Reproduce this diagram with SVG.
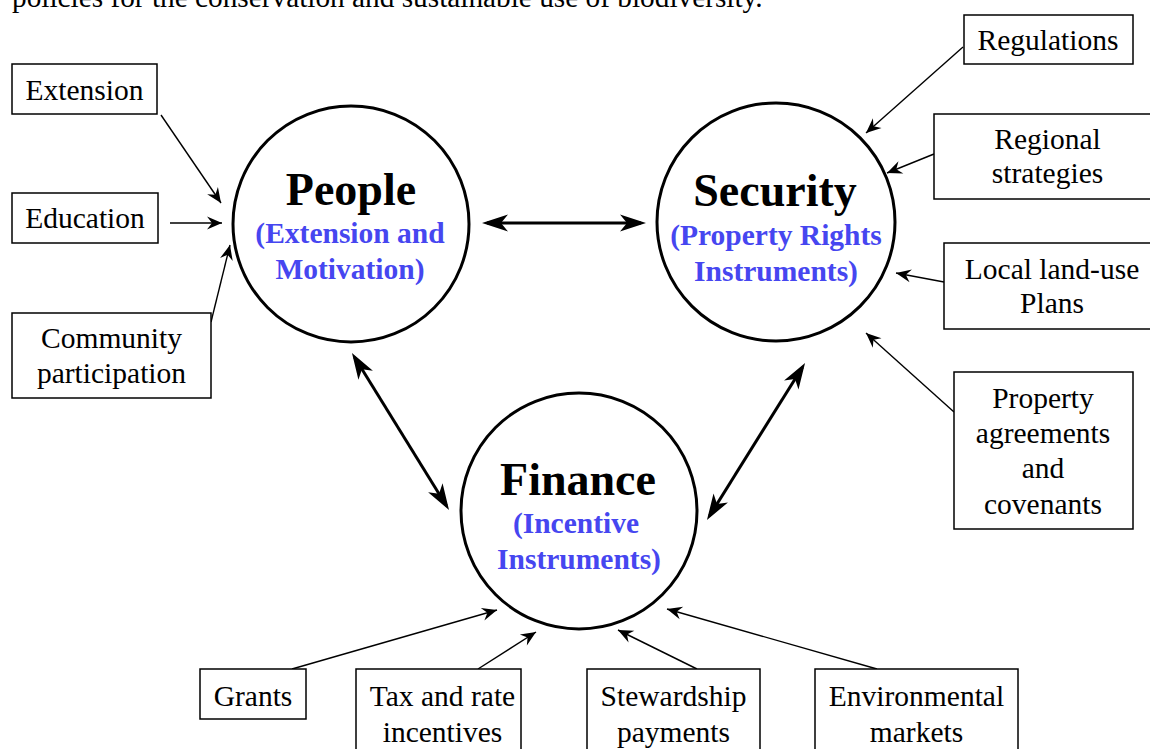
<svg xmlns="http://www.w3.org/2000/svg" width="1150" height="749" viewBox="0 0 1150 749">
<style>
  .bx { fill: #fff; stroke: #000; stroke-width: 1.5; }
  .hub { fill: #fff; stroke: #000; stroke-width: 3; }
  .t { font-family: "Liberation Serif", "Times New Roman", serif; font-size: 29.5px; fill: #000; text-anchor: middle; }
  .title { font-family: "Liberation Serif", "Times New Roman", serif; font-size: 46px; font-weight: bold; fill: #000; text-anchor: middle; }
  .sub { font-family: "Liberation Serif", "Times New Roman", serif; font-size: 29.5px; font-weight: bold; fill: #4646F0; text-anchor: middle; }
  .thin { fill: none; stroke: #000; stroke-width: 1.4; marker-end: url(#arr); }
  .thick { fill: none; stroke: #000; stroke-width: 3; marker-start: url(#big); marker-end: url(#big); }
</style>
<defs>
  <marker id="arr" markerUnits="userSpaceOnUse" viewBox="-16 -8 17 16" refX="0" refY="0" markerWidth="17" markerHeight="16" orient="auto">
    <path d="M0,0 L-15,-6.5 L-10,0 L-15,6.5 Z" fill="#000"/>
  </marker>
  <marker id="big" markerUnits="userSpaceOnUse" viewBox="-22 -10 28 20" refX="0" refY="0" markerWidth="28" markerHeight="20" orient="auto-start-reverse">
    <path d="M5,0 L-21,-8.5 L-14,0 L-21,8.5 Z" fill="#000"/>
  </marker>
</defs>
<rect width="1150" height="749" fill="#fff"/>
<text x="12" y="7" font-family="Liberation Serif, Times New Roman, serif" font-size="29.3" fill="#000">policies for the conservation and sustainable use of biodiversity.</text>

<g id="connectors">
  <line class="thick" x1="487" y1="223" x2="641" y2="223"/>
  <line class="thick" x1="354.6" y1="357.3" x2="446.4" y2="505.7"/>
  <line class="thick" x1="802.4" y1="367.2" x2="709.6" y2="515.8"/>
  <line class="thin" x1="161" y1="115" x2="221" y2="203"/>
  <line class="thin" x1="170" y1="223" x2="222" y2="223"/>
  <line class="thin" x1="211" y1="322" x2="230" y2="245"/>
  <line class="thin" x1="963" y1="47" x2="866" y2="133"/>
  <line class="thin" x1="934" y1="154" x2="887" y2="173"/>
  <line class="thin" x1="944" y1="282" x2="896" y2="273"/>
  <line class="thin" x1="954" y1="412" x2="866" y2="333"/>
  <line class="thin" x1="292" y1="669" x2="497" y2="610"/>
  <line class="thin" x1="478" y1="669" x2="536" y2="632"/>
  <line class="thin" x1="697" y1="669" x2="618" y2="630"/>
  <line class="thin" x1="877" y1="669" x2="667" y2="609"/>
</g>

<g id="people">
  <circle class="hub" cx="351" cy="224" r="118"/>
  <text class="title" x="351" y="205">People</text>
  <text class="sub" x="350" y="243">(Extension and</text>
  <text class="sub" x="350" y="279">Motivation)</text>
</g>
<g id="security">
  <circle class="hub" cx="776" cy="222" r="119"/>
  <text class="title" x="775" y="206">Security</text>
  <text class="sub" x="776" y="245">(Property Rights</text>
  <text class="sub" x="776" y="281">Instruments)</text>
</g>
<g id="finance">
  <circle class="hub" cx="579" cy="511" r="118"/>
  <text class="title" x="578" y="495">Finance</text>
  <text class="sub" x="576" y="533">(Incentive</text>
  <text class="sub" x="579" y="569">Instruments)</text>
</g>

<g id="extension">
  <rect class="bx" x="12" y="64" width="145" height="50"/>
  <text class="t" x="84.5" y="100">Extension</text>
</g>
<g id="education">
  <rect class="bx" x="12" y="193" width="146" height="50"/>
  <text class="t" x="85" y="228">Education</text>
</g>
<g id="community">
  <rect class="bx" x="12" y="313" width="199" height="85"/>
  <text class="t" x="111.5" y="348">Community</text>
  <text class="t" x="111.5" y="383">participation</text>
</g>
<g id="regulations">
  <rect class="bx" x="964" y="15" width="169" height="49"/>
  <text class="t" x="1048" y="50">Regulations</text>
</g>
<g id="regional">
  <rect class="bx" x="934" y="114" width="230" height="85"/>
  <text class="t" x="1047.5" y="149">Regional</text>
  <text class="t" x="1047.5" y="183">strategies</text>
</g>
<g id="local">
  <rect class="bx" x="944" y="243" width="220" height="86"/>
  <text class="t" x="1052" y="279">Local land-use</text>
  <text class="t" x="1052" y="313">Plans</text>
</g>
<g id="property">
  <rect class="bx" x="954" y="372" width="179" height="157"/>
  <text class="t" x="1043" y="408">Property</text>
  <text class="t" x="1043" y="443">agreements</text>
  <text class="t" x="1043" y="478">and</text>
  <text class="t" x="1043" y="514">covenants</text>
</g>
<g id="grants">
  <rect class="bx" x="200" y="669" width="106" height="50"/>
  <text class="t" x="253" y="706">Grants</text>
</g>
<g id="tax">
  <rect class="bx" x="356" y="669" width="165" height="90"/>
  <text class="t" x="442.5" y="706">Tax and rate</text>
  <text class="t" x="442.5" y="742">incentives</text>
</g>
<g id="stewardship">
  <rect class="bx" x="587" y="669" width="173" height="90"/>
  <text class="t" x="673.5" y="706">Stewardship</text>
  <text class="t" x="673.5" y="742">payments</text>
</g>
<g id="environmental">
  <rect class="bx" x="815" y="669" width="203" height="90"/>
  <text class="t" x="916.5" y="706">Environmental</text>
  <text class="t" x="916.5" y="742">markets</text>
</g>
</svg>
